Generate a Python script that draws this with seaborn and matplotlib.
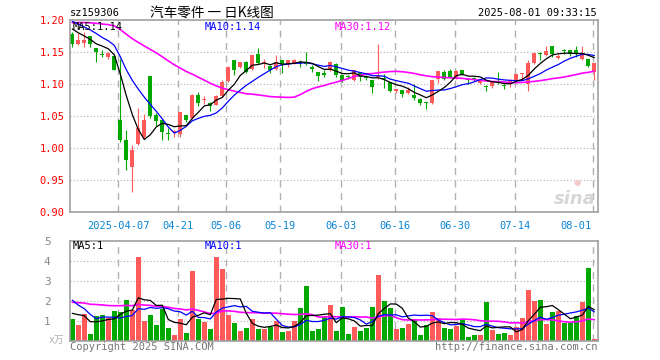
import numpy as np
import pandas as pd
import matplotlib
matplotlib.use("Agg")
import matplotlib.pyplot as plt
import seaborn as sns
from matplotlib.transforms import blended_transform_factory

sns.set_style("white")
plt.rcParams['font.family'] = ['DejaVu Sans Mono', 'Noto Sans CJK SC']

# ---------------- data ----------------
opens = [1.179, 1.1635, 1.165, 1.175, 1.156, 1.146, 1.143, 1.144, 1.044, 1.0125,
         0.971, 1.006, 1.017, 1.1125, 1.0515, 1.045, 1.0235, 1.026, 1.022, 1.0515,
         1.048, 1.083, 1.076, 1.070, 1.068, 1.081, 1.105, 1.1375, 1.127, 1.135,
         1.1245, 1.148, 1.133, 1.128, 1.1245, 1.1375, 1.132, 1.134, 1.134, 1.135,
         1.127, 1.119, 1.118, 1.122, 1.131, 1.114, 1.1115, 1.106, 1.119, 1.111,
         1.106, 1.111, 1.109, 1.1035, 1.0895, 1.0905, 1.0865, 1.083, 1.0775, 1.0705,
         1.071, 1.109, 1.119, 1.121, 1.1105, 1.122, 1.107, 1.109, 1.102, 1.096,
         1.0975, 1.103, 1.0985, 1.100, 1.105, 1.1155, 1.100, 1.134, 1.148, 1.145,
         1.1595, 1.141, 1.153, 1.153, 1.153, 1.140, 1.140, 1.119]
highs = [1.181, 1.180, 1.182, 1.176, 1.157, 1.153, 1.150, 1.146, 1.140, 1.028,
         1.005, 1.063, 1.053, 1.113, 1.055, 1.046, 1.032, 1.029, 1.057, 1.052,
         1.0845, 1.088, 1.081, 1.073, 1.084, 1.107, 1.128, 1.1385, 1.135, 1.136,
         1.145, 1.157, 1.139, 1.130, 1.146, 1.1385, 1.1385, 1.1395, 1.1385, 1.1505,
         1.130, 1.120, 1.123, 1.1365, 1.133, 1.115, 1.114, 1.122, 1.120, 1.114,
         1.107, 1.1625, 1.1155, 1.104, 1.092, 1.091, 1.096, 1.101, 1.078, 1.0725,
         1.106, 1.120, 1.122, 1.1245, 1.123, 1.122, 1.110, 1.1115, 1.109, 1.0995,
         1.104, 1.119, 1.101, 1.109, 1.1165, 1.118, 1.1385, 1.149, 1.1505, 1.1595,
         1.1595, 1.148, 1.1555, 1.153, 1.1595, 1.1595, 1.140, 1.134]
lows = [1.158, 1.161, 1.158, 1.159, 1.135, 1.142, 1.140, 1.122, 1.010, 0.966,
        0.932, 1.005, 1.015, 1.048, 1.035, 1.0125, 1.0135, 1.017, 1.017, 1.041,
        1.0465, 1.0655, 1.069, 1.058, 1.067, 1.080, 1.104, 1.114, 1.1255, 1.118,
        1.123, 1.132, 1.1255, 1.117, 1.123, 1.118, 1.127, 1.132, 1.127, 1.130,
        1.119, 1.1045, 1.1115, 1.121, 1.111, 1.1035, 1.109, 1.1045, 1.1045, 1.106,
        1.0865, 1.109, 1.094, 1.088, 1.0865, 1.080, 1.0855, 1.075, 1.067, 1.062,
        1.070, 1.102, 1.107, 1.110, 1.109, 1.114, 1.101, 1.105, 1.101, 1.090,
        1.094, 1.100, 1.092, 1.096, 1.1035, 1.106, 1.0895, 1.132, 1.1385, 1.1435,
        1.1425, 1.139, 1.147, 1.1435, 1.1425, 1.1375, 1.127, 1.106]
closes = [1.1625, 1.170, 1.170, 1.1635, 1.150, 1.145, 1.149, 1.123, 1.013, 0.982,
          0.997, 1.032, 1.045, 1.050, 1.043, 1.0255, 1.023, 1.027, 1.056, 1.045,
          1.083, 1.070, 1.077, 1.0655, 1.081, 1.1035, 1.127, 1.123, 1.135, 1.119,
          1.145, 1.133, 1.134, 1.122, 1.135, 1.132, 1.1375, 1.1375, 1.133, 1.131,
          1.1245, 1.1125, 1.115, 1.1355, 1.115, 1.106, 1.111, 1.122, 1.1115, 1.110,
          1.096, 1.1115, 1.108, 1.0895, 1.092, 1.0845, 1.0915, 1.079, 1.070, 1.070,
          1.106, 1.120, 1.109, 1.1115, 1.121, 1.1165, 1.106, 1.108, 1.106, 1.0955,
          1.1035, 1.1025, 1.098, 1.1045, 1.1155, 1.118, 1.134, 1.1485, 1.147, 1.1515,
          1.148, 1.1435, 1.1525, 1.148, 1.148, 1.1495, 1.1287, 1.134]
volumes = [1.08, 0.78, 1.32, 0.33, 1.23, 1.28, 1.15, 1.47, 1.45, 2.03,
           1.55, 4.20, 1.00, 1.28, 0.78, 1.60, 0.63, 0.30, 1.07, 0.38,
           3.50, 1.10, 0.93, 0.58, 4.20, 3.60, 1.28, 0.87, 0.48, 0.63,
           1.07, 0.58, 0.58, 0.70, 0.98, 0.45, 0.48, 0.97, 1.65, 2.72,
           0.48, 0.57, 1.20, 1.78, 0.48, 1.68, 0.33, 0.68, 0.48, 0.63,
           1.68, 3.28, 1.98, 1.63, 0.58, 0.63, 0.83, 1.08, 0.28, 0.78,
           1.43, 1.13, 0.63, 0.58, 0.73, 1.03, 0.18, 0.28, 0.28, 1.93,
           0.53, 0.33, 0.38, 0.28, 0.68, 1.13, 2.53, 1.98, 2.03, 0.83,
           1.43, 1.48, 0.88, 0.88, 1.23, 1.93, 3.63, 0.08]
prior_close = [1.165, 1.170, 1.175, 1.172, 1.178, 1.180, 1.178, 1.190, 1.198, 1.205,
               1.210, 1.212, 1.208, 1.205, 1.210, 1.215, 1.212, 1.208, 1.205, 1.210,
               1.212, 1.215, 1.210, 1.205, 1.208, 1.200, 1.195, 1.190, 1.185]
prior_volume = [1.5, 1.8, 2.2, 1.6, 1.9, 2.1, 1.7, 1.4, 1.6, 2.0,
                2.3, 1.9, 1.8, 2.2, 1.7, 1.9, 2.1, 1.8, 2.0, 1.9,
                3.3, 3.1, 3.2, 3.36, 0.49, 1.13, 1.57, 1.83, 1.24]
tick_index = [8, 18, 26, 35, 45, 54, 64, 74, 87]
tick_labels = ["2025-04-07", "04-21", "05-06", "05-19", "06-03",
               "06-16", "06-30", "07-14", "08-01"]
price_ticks = [0.90, 0.95, 1.00, 1.05, 1.10, 1.15, 1.20]
vol_ticks = [1, 2, 3, 4, 5]
ma_price_labels = ["MA5:1.14", "MA10:1.14", "MA30:1.12"]
ma_vol_labels = ["MA5:1", "MA10:1", "MA30:1"]

# ---------------- derived ----------------
n = len(closes)
idx = np.arange(n)
npre = len(prior_close)
full_c = pd.Series(prior_close + closes)
full_v = pd.Series(prior_volume + volumes)
ma_p = {k: full_c.rolling(k).mean().values[npre:] for k in (5, 10, 30)}
ma_v = {k: full_v.rolling(k).mean().values[npre:] for k in (5, 10, 30)}

RED = '#ff5a5a'
GREEN = '#00a800'
MA_COLORS = {5: '#000000', 10: '#0000ff', 30: '#ff00ff'}
GRID = '#b0b0b0'
FRAME = '#a0a0a0'

W, H = 660, 360
fig = plt.figure(figsize=(W / 100, H / 100), dpi=100)
fig.patch.set_facecolor('white')

L, R = 70, 597.5
ax = fig.add_axes([L / W, 1 - 212.3 / H, (R - L) / W, 192 / H])
axv = fig.add_axes([L / W, 1 - 340.7 / H, (R - L) / W, 100 / H])

xlim = (-0.38, 87.53)
tick_pos = [t - 0.3 for t in tick_index]

up = np.array(closes) >= np.array(opens)
cols = [RED if u else GREEN for u in up]

# ---- price panel ----
for y in price_ticks[1:-1]:
    ax.axhline(y, color=GRID, lw=0.8, ls=(0, (1, 2)), zorder=0)
for x in tick_pos:
    ax.axvline(x, color=GRID, lw=1.0, ls=(0, (5, 4)), zorder=0)

ax.vlines(idx, lows, highs, colors=cols, lw=0.8, zorder=2)
body_bottom = np.minimum(opens, closes)
body_h = np.maximum(np.abs(np.array(closes) - np.array(opens)), 0.0016)
ax.bar(idx, body_h, bottom=body_bottom, width=0.67, color=cols, linewidth=0, zorder=2)

for k in (30, 10, 5):
    sns.lineplot(x=idx, y=ma_p[k], ax=ax, color=MA_COLORS[k],
                 lw=1.2 if k == 30 else 0.9, zorder=3)

ax.set_xlim(*xlim)
ax.set_ylim(0.90, 1.20)
ax.set_yticks(price_ticks)
ax.set_yticklabels([f"{v:.2f}" for v in price_ticks], color='#ff0000', fontsize=7.5)
ax.tick_params(axis='y', length=0, pad=4)
ax.set_xticks([])
for s in ax.spines.values():
    s.set_color(FRAME)
    s.set_linewidth(1.2)

trans = blended_transform_factory(ax.transData, ax.transAxes)
for i, (p, lab) in enumerate(zip(tick_pos, tick_labels)):
    if i == len(tick_labels) - 1:
        ax.text(p - 0.2, -0.045, lab, transform=trans, ha='right', va='top',
                color='#0a84d6', fontsize=7.5)
    else:
        ax.text(p, -0.045, lab, transform=trans, ha='center', va='top',
                color='#0a84d6', fontsize=7.5)

# legend texts (price)
fig.text(73 / W, 1 - 27 / H, ma_price_labels[0], color=MA_COLORS[5], fontsize=7.5, va='center')
fig.text(205 / W, 1 - 27 / H, ma_price_labels[1], color=MA_COLORS[10], fontsize=7.5, va='center')
fig.text(335 / W, 1 - 27 / H, ma_price_labels[2], color=MA_COLORS[30], fontsize=7.5, va='center')

# sina watermark
fig.text(596 / W, 1 - 199 / H, "sina", color='#d6d6d6', fontsize=13, fontstyle='italic',
         fontweight='bold', ha='right', va='center', family=['DejaVu Sans'])
fig.text(577 / W, 1 - 182 / H, "●", color='#f3c9c9', fontsize=6, ha='center', va='center',
         family=['DejaVu Sans'])

# ---- volume panel ----
for y in vol_ticks[:-1]:
    axv.axhline(y, color=GRID, lw=0.8, ls=(0, (1, 2)), zorder=0)
for x in tick_pos:
    axv.axvline(x, color=GRID, lw=1.0, ls=(0, (5, 4)), zorder=0)
axv.bar(idx, volumes, width=0.83, color=cols, linewidth=0, zorder=2)
for k in (30, 10, 5):
    sns.lineplot(x=idx, y=ma_v[k], ax=axv, color=MA_COLORS[k],
                 lw=1.2 if k == 30 else 0.9, zorder=3)
axv.set_xlim(*xlim)
axv.set_ylim(0, 5)
axv.set_yticks(vol_ticks)
axv.set_yticklabels([str(v) for v in vol_ticks], color='#888888', fontsize=8)
axv.tick_params(axis='y', length=0, pad=14)
axv.set_xticks([])
for s in axv.spines.values():
    s.set_color(FRAME)
    s.set_linewidth(1.2)
fig.text(56 / W, 1 - 340 / H, "x万", color='#b0b0b0', fontsize=7, ha='center', va='center',
         family=['DejaVu Sans Mono', 'Noto Sans CJK SC'])

fig.text(73 / W, 1 - 246 / H, ma_vol_labels[0], color=MA_COLORS[5], fontsize=7.5, va='center')
fig.text(205 / W, 1 - 246 / H, ma_vol_labels[1], color=MA_COLORS[10], fontsize=7.5, va='center')
fig.text(335 / W, 1 - 246 / H, ma_vol_labels[2], color=MA_COLORS[30], fontsize=7.5, va='center')

# ---- header / footer ----
fig.text(70 / W, 1 - 13 / H, "sz159306", color='#000000', fontsize=7.5, va='center')
fig.text(150 / W, 1 - 12.5 / H, "汽车零件 一 日K线图", color='#000000', fontsize=9.8,
         va='center', family=['Noto Sans CJK SC', 'DejaVu Sans'])
fig.text(597 / W, 1 - 13 / H, "2025-08-01 09:33:15", color='#000000', fontsize=7.5,
         va='center', ha='right')
fig.text(70 / W, 1 - 347 / H, "Copyright 2025 SINA.COM", color='#777777', fontsize=7.5, va='center')
fig.text(597 / W, 1 - 347 / H, "http://finance.sina.com.cn", color='#777777', fontsize=7.5,
         va='center', ha='right')

fig.savefig("out.png", dpi=100, facecolor='white')
